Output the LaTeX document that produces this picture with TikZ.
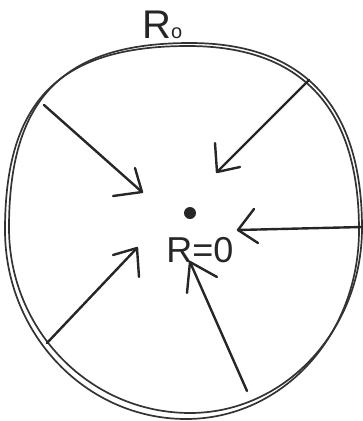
\documentclass[tikz,border=0pt]{standalone}
\usepackage{fontspec}
\setmainfont{Liberation Sans}
\begin{document}
\begin{tikzpicture}[x=1pt,y=-1pt,
  ink/.style={draw=black!85, line width=2.4pt, line cap=round, line join=round},
  rim/.style={draw=black!80, line width=1.7pt}]
\useasboundingbox (0,0) rectangle (363,421);
% rim (double hand-drawn stroke)
\draw[rim] (190,43) .. controls (304,43) and (362,106) .. (362,228)
  .. controls (362,330) and (285,413) .. (190,413)
  .. controls (90,413) and (9,330) .. (9,228)
  .. controls (9,98) and (63,43) .. (190,43);
\draw[rim] (188,46) .. controls (302,46) and (359,108) .. (359,230)
  .. controls (359,336) and (282,419) .. (186,419)
  .. controls (86,419) and (5,334) .. (5,230)
  .. controls (5,100) and (60,46) .. (188,46);
% named points
\coordinate (a1s) at (44,105);  \coordinate (a1t) at (142,192);
\coordinate (a1h) at (135,168); \coordinate (a1k) at (113,196);
\coordinate (a2s) at (309,80);  \coordinate (a2t) at (217,172);
\coordinate (a2h) at (215,143); \coordinate (a2k) at (240,167);
\coordinate (a3s) at (362,227); \coordinate (a3t) at (238,230);
\coordinate (a3h) at (254,209); \coordinate (a3k) at (258,243);
\coordinate (a4s) at (47,343);  \coordinate (a4t) at (137,248);
\coordinate (a4h) at (113,255); \coordinate (a4k) at (139,277);
\coordinate (a5s) at (247,391); \coordinate (a5t) at (190,262);
\coordinate (a5h) at (187,293); \coordinate (a5k) at (217,277);
% arrows
\foreach \i in {1,...,5}{
  \draw[ink] (a\i s) -- (a\i t);
  \draw[ink] (a\i h) -- (a\i t) -- (a\i k);
}
% centre dot
\node[circle, fill=black!85, inner sep=0pt, minimum size=12pt] (dot) at (190,213) {};
% labels
\node[inner sep=0pt, text=black!85] (r0) at (200,250) {\fontsize{36}{36}\selectfont R=0};
\node[inner sep=0pt, text=black!85, anchor=base west] (rtop) at (142,38) {\fontsize{40}{40}\selectfont R\fontsize{20}{20}\selectfont o};
\end{tikzpicture}
\end{document}
